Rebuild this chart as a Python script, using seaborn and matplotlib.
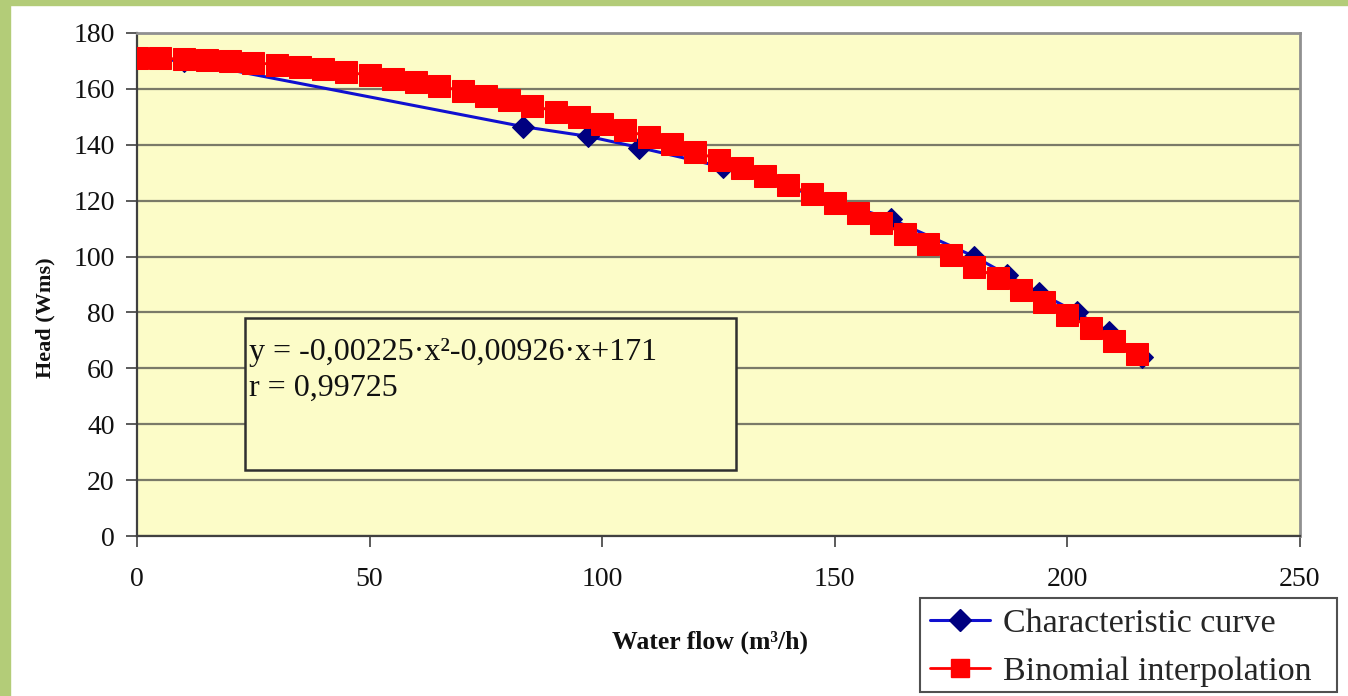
import matplotlib
matplotlib.use("Agg")
import matplotlib.pyplot as plt
import seaborn as sns
import pandas as pd
from matplotlib.patches import Rectangle
from matplotlib.lines import Line2D

# ---- data ----
char_flow = [0, 10, 83, 97, 108, 126, 162, 180, 187, 194, 202, 209, 216]
char_head = [171, 170, 146.5, 143, 139, 132, 113.5, 100, 93.5, 87, 80, 73, 64]

interp_flow = [0, 5, 10, 15, 20, 25, 30, 35, 40, 45, 50, 55, 60, 65, 70, 75, 80,
               85, 90, 95, 100, 105, 110, 115, 120, 125, 130, 135, 140, 145, 150,
               155, 160, 165, 170, 175, 180, 185, 190, 195, 200, 205, 210, 215]
interp_head = [171.0, 170.9, 170.7, 170.4, 169.9, 169.4, 168.7, 167.9, 167.0, 166.0,
               164.9, 163.7, 162.3, 160.9, 159.3, 157.6, 155.9, 154.0, 151.9, 149.8,
               147.6, 145.2, 142.8, 140.2, 137.5, 134.7, 131.8, 128.7, 125.6, 122.3,
               119.0, 115.5, 111.9, 108.2, 104.4, 100.5, 96.4, 92.3, 88.0, 83.6,
               79.1, 74.5, 69.8, 65.0]

series_names = ["Characteristic curve", "Binomial interpolation"]
x_ticks = [0, 50, 100, 150, 200, 250]
y_ticks = [0, 20, 40, 60, 80, 100, 120, 140, 160, 180]
equation = "y = -0,00225\u00b7x\u00b2-0,00926\u00b7x+171"
r_text = "r = 0,99725"
x_label = "Water flow (m\u00b3/h)"
y_label = "Head (Wms)"

sns.set_theme(style="white")
plt.rcParams["font.family"] = ["Liberation Serif", "DejaVu Serif"]

W, H = 1348, 696
fig = plt.figure(figsize=(W / 100, H / 100), dpi=100)
fig.patch.set_facecolor("white")

green = "#b3cc78"
fig.add_artist(Rectangle((0, 0), 10 / W, 1, transform=fig.transFigure,
                         color=green, zorder=0))
fig.add_artist(Rectangle((0, 1 - 5 / H), 1, 5 / H, transform=fig.transFigure,
                         color=green, zorder=0))

ax = fig.add_axes([137 / W, 1 - 536 / H, (1300 - 137) / W, (536 - 33) / H])
ax.set_facecolor("#fcfcc8")

df_c = pd.DataFrame({"flow": char_flow, "head": char_head})
df_i = pd.DataFrame({"flow": interp_flow, "head": interp_head})

sns.lineplot(data=df_c, x="flow", y="head", ax=ax, color="#1010d0", lw=2.2,
             marker="D", markersize=11, markerfacecolor="#000080",
             markeredgecolor="#000080", zorder=3, sort=False)
sns.lineplot(data=df_i, x="flow", y="head", ax=ax, color="#ff0000", lw=2,
             marker="s", markersize=16, markerfacecolor="#ff0000",
             markeredgecolor="#ff0000", zorder=4, sort=False)

ax.set_xlim(0, 250)
ax.set_ylim(0, 180)
ax.set_xticks(x_ticks)
ax.set_yticks(y_ticks)
ax.set_xticklabels([str(v) for v in x_ticks])
ax.set_yticklabels([str(v) for v in y_ticks])
ax.tick_params(axis="both", which="both", direction="out", length=8, width=1.2,
               color="#404040", labelsize=20, labelcolor="#111111")
ax.tick_params(axis="x", pad=14, bottom=True)
ax.tick_params(axis="y", pad=8, left=True)

ax.yaxis.grid(True, color="#7a7a68", lw=1.6)
ax.xaxis.grid(False)
ax.set_axisbelow(True)
for s in ["top", "right"]:
    ax.spines[s].set_color("#909090")
    ax.spines[s].set_linewidth(2)
for s in ["left", "bottom"]:
    ax.spines[s].set_color("#404040")
    ax.spines[s].set_linewidth(1.6)

ax.set_xlabel("")
ax.set_ylabel("")
fig.text(710 / W, 1 - 642 / H, x_label, ha="center", va="center",
         fontsize=18.5, fontweight="bold", color="#111111")
fig.text(45 / W, 1 - 318 / H, y_label, ha="center", va="center", rotation=90,
         fontsize=16, fontweight="bold", color="#111111")

# equation box
bx0, by0, bx1, by1 = 245, 318, 736, 470
fig.add_artist(Rectangle((bx0 / W, 1 - by1 / H), (bx1 - bx0) / W, (by1 - by0) / H,
                         transform=fig.transFigure, facecolor="#fcfcc8",
                         edgecolor="#303030", lw=1.8, zorder=5))
fig.text(249 / W, 1 - 352 / H, equation, ha="left", va="center", fontsize=23,
         color="#111111", zorder=6)
fig.text(249 / W, 1 - 388 / H, r_text, ha="left", va="center", fontsize=23,
         color="#111111", zorder=6)

# legend frame
lx0, ly0, lx1, ly1 = 920, 598, 1337, 692
fig.add_artist(Rectangle((lx0 / W, 1 - ly1 / H), (lx1 - lx0) / W, (ly1 - ly0) / H,
                         transform=fig.transFigure, facecolor="white",
                         edgecolor="#505050", lw=1.5, zorder=4))

handles = [
    Line2D([], [], color="#1010d0", lw=2.2, marker="D", markersize=11,
           markerfacecolor="#000080", markeredgecolor="#000080"),
    Line2D([], [], color="#ff0000", lw=2, marker="s", markersize=13,
           markerfacecolor="#ff0000", markeredgecolor="#ff0000"),
]
leg = fig.legend(handles, series_names, loc="upper left",
                 bbox_to_anchor=(925 / W, 1 - 603 / H), frameon=False,
                 fontsize=24.5, handlelength=1.75, handletextpad=0.38,
                 borderpad=0.15, labelspacing=0.5, borderaxespad=0)
leg.set_zorder(6)

fig.savefig("out.png", dpi=100)
